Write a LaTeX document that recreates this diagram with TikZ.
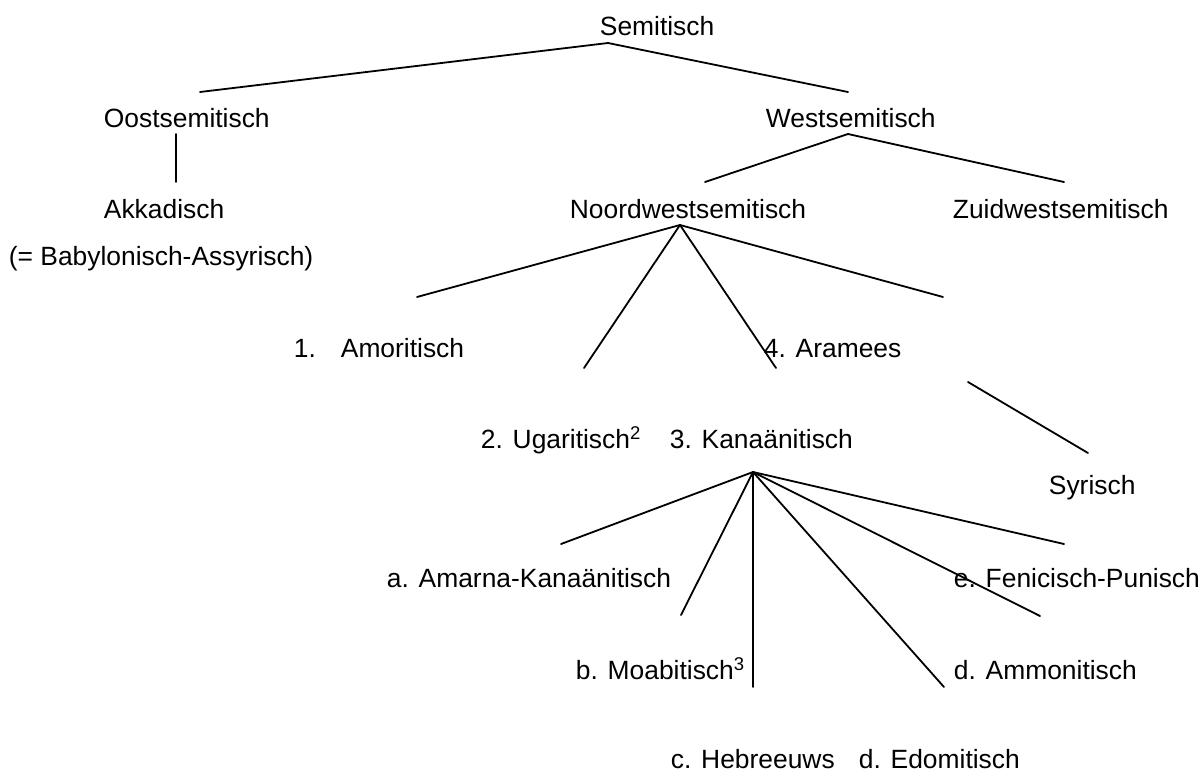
\documentclass[tikz,border=0pt]{standalone}
\usepackage{fontspec}
\setmainfont{Liberation Sans}
\usetikzlibrary{positioning}
\definecolor{ink}{gray}{0.0}

\begin{document}
\begin{tikzpicture}[x=0.5pt,y=-0.5pt,line width=0.9pt,
    lang/.style={anchor=base west,inner sep=0pt,text=ink,
                 font=\fontsize{13.2pt}{16pt}\selectfont},
    branch/.style={ink,line cap=round}]
  \useasboundingbox (0,0) rectangle (1200,771);

  % language names
  \node[lang] (sem)  at (599,35)  {Semitisch};
  \node[lang] (oost) at (103,127) {Oostsemitisch};
  \node[lang] (west) at (765,127) {Westsemitisch};
  \node[lang] (akk)  at (103,218) {Akkadisch};
  \node[lang] (baby) at (8,265)   {(= Babylonisch-Assyrisch)};
  \node[lang] (nw)   at (569,218) {Noordwestsemitisch};
  \node[lang] (zw)   at (952,218) {Zuidwestsemitisch};
  \node[lang] (amor) at (293,357) {1.\hspace{12.5pt}Amoritisch};
  \node[lang] (aram) at (763,357) {4. Aramees};
  \node[lang] (ugar) at (480,448) {2. Ugaritisch\textsuperscript{2}};
  \node[lang] (kan)  at (669,448) {3. Kanaänitisch};
  \node[lang] (syr)  at (1048,494) {Syrisch};
  \node[lang] (amar) at (386,587) {a. Amarna-Kanaänitisch};
  \node[lang] (fen)  at (953,587) {e. Fenicisch-Punisch};
  \node[lang] (moab) at (575,679) {b. Moabitisch\textsuperscript{3}};
  \node[lang] (ammo) at (953,679) {d. Ammonitisch};
  \node[lang] (hebr) at (670,768) {c. Hebreeuws};
  \node[lang] (edom) at (858,768) {d. Edomitisch};

  % branch points and free ends
  \coordinate (sem-r)  at (608,43);
  \coordinate (oost-t) at (200,92);
  \coordinate (west-t) at (848,92);
  \coordinate (oost-b) at (176,134);
  \coordinate (akk-t)  at (176,182);
  \coordinate (west-r) at (848,134);
  \coordinate (nw-t)   at (705,182);
  \coordinate (zw-t)   at (1064,182);
  \coordinate (nw-r)   at (680,225);
  \coordinate (amor-t) at (417,297);
  \coordinate (ugar-t) at (584,368);
  \coordinate (kan-t)  at (776,368);
  \coordinate (aram-t) at (943,297);
  \coordinate (aram-b) at (968,382);
  \coordinate (syr-t)  at (1088,453);
  \coordinate (kan-r)  at (753,472);
  \coordinate (amar-t) at (561,544);
  \coordinate (moab-t) at (681,615);
  \coordinate (hebr-t) at (753,687);
  \coordinate (edom-t) at (944,687);
  \coordinate (ammo-t) at (1040,616);
  \coordinate (fen-t)  at (1064,544);

  \draw[branch] (oost-t) -- (sem-r) -- (west-t);
  \draw[branch] (oost-b) -- (akk-t);
  \draw[branch] (nw-t) -- (west-r) -- (zw-t);
  \foreach \e in {amor-t,ugar-t,kan-t,aram-t}
    \draw[branch] (nw-r) -- (\e);
  \draw[branch] (aram-b) -- (syr-t);
  \foreach \e in {amar-t,moab-t,hebr-t,edom-t,ammo-t,fen-t}
    \draw[branch] (kan-r) -- (\e);
\end{tikzpicture}
\end{document}
